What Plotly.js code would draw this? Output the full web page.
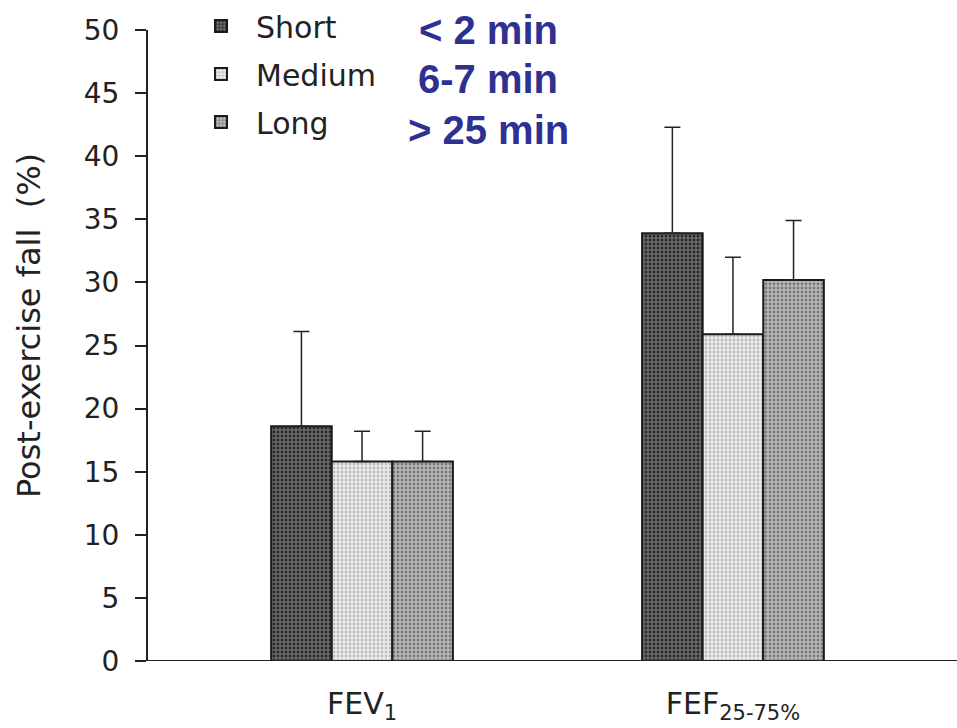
<!DOCTYPE html>
<html>
<head>
<meta charset="utf-8">
<script src="https://cdn.plot.ly/plotly-3.0.1.min.js"></script>
<style>html,body{margin:0;padding:0;background:#fff;}#chart{width:957px;height:728px;}</style>
</head>
<body>
<div id="chart"></div>
<script>
const categories = ["FEV<sub>1</sub>", "FEF<sub>25-75%</sub>"];
const seriesNames = ["Short", "Medium", "Long"];
const durations = ["< 2 min", "6-7 min", "> 25 min"];
const shortVals = [18.6, 33.9];
const shortErr = [7.5, 8.4];
const mediumVals = [15.8, 25.9];
const mediumErr = [2.4, 6.1];
const longVals = [15.8, 30.2];
const longErr = [2.4, 4.7];
const yTicks = [0, 5, 10, 15, 20, 25, 30, 35, 40, 45, 50];
const yTitle = "Post-exercise fall\u00a0\u00a0(%)";

const fills = ["#6a6a6a", "#ececec", "#b9b9b9"];
const fgs = ["#2a2a2a", "#bdbdbd", "#7a7a7a"];
const vals = [shortVals, mediumVals, longVals];
const errs = [shortErr, mediumErr, longErr];

const FONT = "DejaVu Sans, Liberation Sans, Arial";

const traces = seriesNames.map((n, i) => ({
  type: "bar",
  name: n,
  legendgroup: n,
  x: categories,
  y: vals[i],
  marker: {
    color: fills[i],
    line: {color: "#1a1a1a", width: 2},
    pattern: {shape: ".", fgcolor: fgs[i], bgcolor: fills[i], size: 4, solidity: 0.4}
  },
  error_y: {type: "data", symmetric: false, array: errs[i], arrayminus: vals[i].map(() => 0),
            color: "#222", thickness: 1.5, width: 8}
}));

const annotations = durations.map((t, i) => ({
  xref: "paper", yref: "paper",
  x: (488 - 148) / 809, y: 1 - ([0, 49, 100][i]) / 633,
  xanchor: "center", yanchor: "middle",
  text: "<b>" + t + "</b>", showarrow: false,
  font: {family: "Liberation Sans, Arial", size: 40, color: "#2e3192"}
}));
annotations.push({
  xref: "paper", yref: "paper", x: (29 - 148) / 809, y: (661 - 325) / 633,
  xanchor: "center", yanchor: "middle", textangle: -90, showarrow: false,
  text: yTitle, font: {family: FONT, size: 32, color: "#222"}
});

const layout = {
  width: 957, height: 728,
  margin: {l: 148, r: 0, t: 28, b: 67},
  paper_bgcolor: "#fff", plot_bgcolor: "#fff",
  font: {family: FONT, color: "#222"},
  barmode: "group", bargap: 0.51, bargroupgap: 0,
  showlegend: true,
  legend: {x: 0.047, y: 1.048, xanchor: "left", yanchor: "top", bgcolor: "rgba(0,0,0,0)",
           font: {size: 30, color: "#222", family: FONT}, itemwidth: 60, tracegroupgap: 6, traceorder: "grouped"},
  xaxis: {
    range: [-0.577, 1.604], showgrid: false, zeroline: false,
    showline: false, ticks: "", tickfont: {size: 30, color: "#222", family: FONT},
    ticklabelstandoff: 22, fixedrange: true
  },
  yaxis: {
    range: [0, 50], tickvals: yTicks, showgrid: false, zeroline: false,
    showline: true, linecolor: "#222", linewidth: 2, ticks: "outside", ticklen: 11,
    tickwidth: 2, tickcolor: "#222", tickfont: {size: 28, color: "#222", family: FONT}, ticklabelstandoff: 10
  },
  shapes: [{type: "line", xref: "paper", yref: "y", x0: -13/809, x1: 1, y0: 0, y1: 0,
            line: {color: "#222", width: 2}}],
  annotations: annotations
};

Plotly.newPlot("chart", traces, layout, {displayModeBar: false, staticPlot: true});
</script>
</body>
</html>
